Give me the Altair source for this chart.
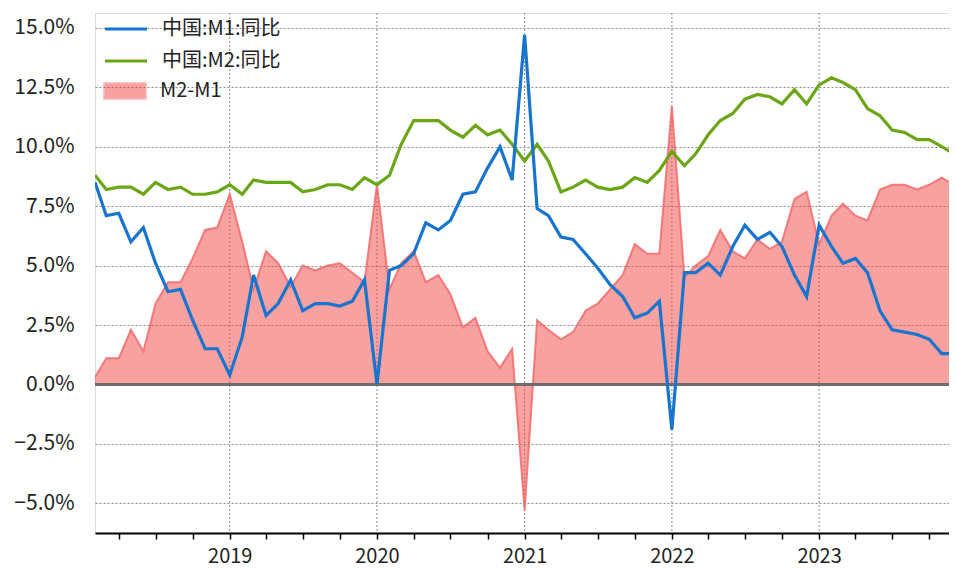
import altair as alt
import pandas as pd

# ---- data ----
months = pd.date_range("2018-02-01", "2023-12-01", freq="MS").strftime("%Y-%m-%d").tolist()

m1_yoy = [
    8.5, 7.1, 7.2, 6.0, 6.6, 5.1, 3.9, 4.0, 2.7, 1.5, 1.5,                # 2018 Feb-Dec
    0.4, 2.0, 4.6, 2.9, 3.4, 4.4, 3.1, 3.4, 3.4, 3.3, 3.5, 4.4,           # 2019
    0.0, 4.8, 5.0, 5.5, 6.8, 6.5, 6.9, 8.0, 8.1, 9.1, 10.0, 8.6,          # 2020
    14.7, 7.4, 7.1, 6.2, 6.1, 5.5, 4.9, 4.2, 3.7, 2.8, 3.0, 3.5,          # 2021
    -1.9, 4.7, 4.7, 5.1, 4.6, 5.8, 6.7, 6.1, 6.4, 5.8, 4.6, 3.7,          # 2022
    6.7, 5.8, 5.1, 5.3, 4.7, 3.1, 2.3, 2.2, 2.1, 1.9, 1.3, 1.3,           # 2023
]
m2_yoy = [
    8.8, 8.2, 8.3, 8.3, 8.0, 8.5, 8.2, 8.3, 8.0, 8.0, 8.1,                # 2018 Feb-Dec
    8.4, 8.0, 8.6, 8.5, 8.5, 8.5, 8.1, 8.2, 8.4, 8.4, 8.2, 8.7,           # 2019
    8.4, 8.8, 10.1, 11.1, 11.1, 11.1, 10.7, 10.4, 10.9, 10.5, 10.7, 10.1, # 2020
    9.4, 10.1, 9.4, 8.1, 8.3, 8.6, 8.3, 8.2, 8.3, 8.7, 8.5, 9.0,          # 2021
    9.8, 9.2, 9.7, 10.5, 11.1, 11.4, 12.0, 12.2, 12.1, 11.8, 12.4, 11.8,  # 2022
    12.6, 12.9, 12.7, 12.4, 11.6, 11.3, 10.7, 10.6, 10.3, 10.3, 10.0, 9.7,# 2023
]

year_marks = ["2019-01-01", "2020-01-01", "2021-01-01", "2022-01-01", "2023-01-01"]

s_m1 = "中国:M1:同比"
s_m2 = "中国:M2:同比"
s_diff = "M2-M1"

y_ticks = [-5.0, -2.5, 0.0, 2.5, 5.0, 7.5, 10.0, 12.5, 15.0]

df_m1 = pd.DataFrame({"date": months, "value": m1_yoy, "series": s_m1})
df_m2 = pd.DataFrame({"date": months, "value": m2_yoy, "series": s_m2})
df_diff = pd.DataFrame({
    "date": months,
    "value": [round(b - a, 1) for a, b in zip(m1_yoy, m2_yoy)],
    "series": s_diff,
})
df_years = pd.DataFrame({"date": year_marks})

FONT = "Noto Sans CJK SC"
BLUE = "#1874CD"
GREEN = "#6AA616"
RED = "#F24444"
GRID = "#8a8a8a"

x_ticks = [alt.DateTime(year=y, month=m, date=1, utc=True)
           for y in range(2018, 2024) for m in (1, 4, 7, 10)
           if not (y == 2018 and m == 1) and not (y == 2023 and m > 10)]

x_enc = alt.X(
    "date:T",
    title=None,
    scale=alt.Scale(type="utc", domain=[alt.DateTime(year=2018, month=2, date=1, utc=True),
                                        alt.DateTime(year=2023, month=11, date=19, utc=True)]),
    axis=alt.Axis(
        values=x_ticks,
        labelExpr="utcmonth(datum.value) == 0 ? utcFormat(datum.value, '%Y') : ''",
        labelFont=FONT, labelFontSize=20, labelColor="#222222", labelPadding=7,
        labelFlush=False, labelOverlap=False,
        domainColor="#000000", domainWidth=1.8,
        tickColor="#000000", tickWidth=1.5, tickSize=6,
        grid=False,
    ),
)
y_enc = alt.Y(
    "value:Q",
    title=None,
    scale=alt.Scale(domain=[-6.25, 15.625], nice=False, zero=False),
    axis=alt.Axis(
        values=y_ticks,
        labelExpr="format(datum.value, '.1f') + '%'",
        labelFont=FONT, labelFontSize=21, labelColor="#222222", labelPadding=21,
        ticks=False, domain=False,
        grid=True, gridColor=GRID, gridDash=[2, 2], gridWidth=1,
    ),
)

line_legend = alt.Legend(
    orient="none", legendX=19, legendY=4, title=None, padding=0,
    symbolType="M-2.1,0H2.1", symbolSize=400, symbolStrokeWidth=3.2,
    labelFont=FONT, labelFontSize=20, labelColor="#222222", labelOffset=24, rowPadding=10,
)
fill_legend = alt.Legend(
    orient="none", legendX=19, legendY=67, title=None, padding=0,
    symbolType="M-2.1,-0.8H2.1V0.8H-2.1Z", symbolSize=400,
    symbolStrokeColor="#F07070", symbolStrokeWidth=1.5,
    labelFont=FONT, labelFontSize=20, labelColor="#222222", labelOffset=24,
)

year_grid = alt.Chart(df_years).mark_rule(color=GRID, strokeDash=[2, 2], strokeWidth=1).encode(
    x=x_enc,
)
area = alt.Chart(df_diff).mark_area(opacity=0.5, clip=True).encode(
    x=x_enc, y=y_enc,
    fill=alt.Fill("series:N", scale=alt.Scale(domain=[s_diff], range=[RED]), legend=fill_legend),
)
area_edge = alt.Chart(df_diff).mark_line(color="#F26A6A", strokeWidth=2, opacity=0.85, clip=True).encode(
    x=x_enc, y=y_enc,
)
zero_rule = alt.Chart(df_diff).mark_rule(color="#6e6e6e", strokeWidth=1.5).encode(
    y=alt.datum(0),
)
color_enc = alt.Color("series:N", scale=alt.Scale(domain=[s_m1, s_m2], range=[BLUE, GREEN]),
                      legend=line_legend)
line_m2 = alt.Chart(df_m2).mark_line(strokeWidth=3.2, clip=True).encode(x=x_enc, y=y_enc, color=color_enc)
line_m1 = alt.Chart(df_m1).mark_line(strokeWidth=3.2, clip=True).encode(x=x_enc, y=y_enc, color=color_enc)

chart = alt.layer(year_grid, area, area_edge, zero_rule, line_m2, line_m1).properties(
    width=854, height=520,
    autosize=alt.AutoSizeParams(type="none"),
    padding={"left": 87, "top": 5, "right": 0, "bottom": 40},
).configure_view(stroke=None).configure(font=FONT).configure_axisX(grid=False)

chart.save("out.html", embed_options={"renderer": "svg", "actions": False})
